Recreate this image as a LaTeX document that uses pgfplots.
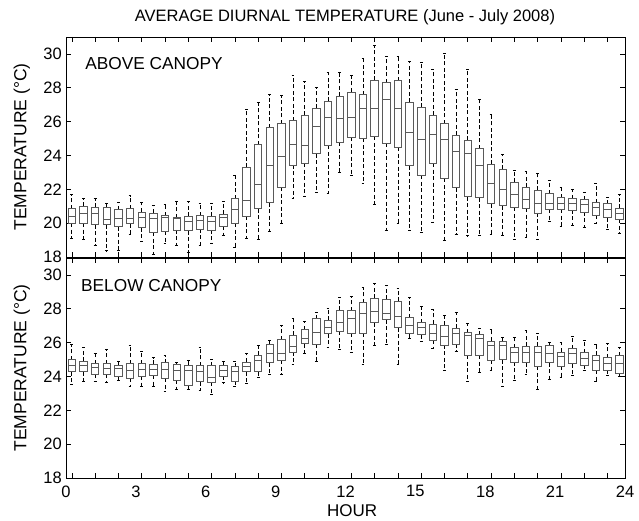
\documentclass[border=0pt]{standalone}
\usepackage{fontspec}
\setmainfont{Liberation Sans}
\usepackage{pgfplots}
\usepackage{pgfplotstable}
\usepgfplotslibrary{statistics}
\pgfplotsset{compat=1.18}

% top panel: above canopy (lower whisker, lower quartile, median, upper quartile, upper whisker)
\pgfplotstableread{
lw lq med uq uw
19.13 20.00 20.42 20.85 21.69
19.07 20.00 20.60 20.99 21.49
18.67 19.92 20.60 20.95 21.45
18.37 19.92 20.20 20.91 21.15
18.41 19.80 20.26 20.80 21.25
19.32 19.96 20.26 20.85 21.63
18.93 19.72 20.36 20.66 21.25
18.13 19.46 20.26 20.60 21.05
18.83 19.52 20.36 20.44 21.11
18.67 19.60 20.26 20.32 21.31
18.27 19.56 20.12 20.40 21.31
18.67 19.66 20.16 20.44 21.19
18.83 19.60 20.12 20.42 21.15
19.26 19.82 20.36 20.52 21.31
18.57 20.00 20.82 21.45 22.80
19.13 20.40 21.33 23.30 26.72
19.05 20.85 22.31 24.63 27.16
19.52 21.21 23.42 25.63 27.59
20.00 22.13 23.94 25.88 27.55
21.45 23.44 24.63 26.06 28.71
21.59 23.54 24.59 26.38 28.37
21.81 24.10 25.73 26.80 28.01
21.79 24.59 26.22 27.20 28.91
23.00 24.79 26.18 27.51 28.91
22.82 25.09 26.22 27.75 28.71
22.35 25.01 26.76 27.59 29.76
21.13 25.13 26.76 28.45 30.50
19.56 24.73 27.30 28.31 29.86
19.96 24.49 26.76 28.41 29.86
19.56 23.40 25.39 27.14 29.54
19.48 22.82 24.93 26.84 29.48
20.04 23.54 25.27 26.38 29.11
18.97 22.64 24.97 25.88 30.02
19.32 22.09 24.25 25.19 27.91
19.26 21.57 24.14 24.91 29.11
19.28 21.51 23.40 24.39 27.30
19.32 21.15 22.35 23.48 26.44
19.26 21.03 22.01 23.18 24.08
19.03 20.93 21.67 22.41 23.12
19.15 20.89 21.43 22.13 23.04
19.03 20.60 21.15 21.93 22.92
20.10 20.83 21.17 21.75 22.50
19.82 20.83 21.17 21.51 22.09
19.86 20.78 21.15 21.45 21.97
19.76 20.66 21.11 21.39 21.83
20.00 20.46 20.95 21.21 22.33
19.62 20.32 20.82 21.15 21.51
19.40 20.22 20.60 20.89 21.69
}\topdata

% bottom panel: below canopy
\pgfplotstableread{
lw lq med uq uw
23.53 24.27 24.67 25.00 25.90
23.69 24.27 24.63 24.90 25.73
23.73 24.12 24.51 24.76 25.35
23.63 24.12 24.47 24.76 25.61
23.78 24.02 24.47 24.67 24.92
23.39 23.88 24.37 24.76 25.84
23.43 24.02 24.43 24.76 25.49
23.39 24.08 24.43 24.71 25.10
23.10 23.88 24.43 24.82 25.22
23.25 23.78 24.33 24.71 24.86
23.25 23.45 24.33 24.67 24.96
23.16 23.69 24.27 24.63 25.73
22.96 23.65 23.92 24.63 25.00
23.63 24.02 24.33 24.63 24.92
23.39 23.73 24.31 24.57 24.92
23.59 24.27 24.57 24.86 25.39
23.92 24.27 24.96 25.25 25.84
24.12 24.82 25.35 25.90 26.14
24.14 24.96 25.35 26.18 27.02
24.73 25.45 25.75 26.43 27.41
25.35 25.94 26.27 26.76 27.25
24.90 25.90 26.59 27.41 27.80
25.73 26.53 26.92 27.31 28.00
25.59 26.67 27.22 27.92 28.65
25.45 26.55 27.41 27.88 28.75
24.73 26.55 27.71 28.35 29.27
25.84 27.18 27.84 28.63 29.51
25.90 27.35 27.75 28.55 29.41
24.73 26.88 27.55 28.43 29.22
26.27 26.53 27.02 27.47 28.65
26.08 26.47 26.92 27.18 28.14
25.69 26.14 26.53 27.10 27.94
24.37 25.86 26.39 27.02 27.59
25.49 25.92 26.53 26.86 27.80
23.73 25.25 26.43 26.59 27.12
24.22 25.25 26.27 26.47 26.82
24.37 24.96 25.84 26.10 26.76
23.39 25.00 25.84 26.10 26.31
23.78 24.86 25.41 25.69 26.31
24.12 24.82 25.41 25.78 26.73
23.22 24.59 25.41 25.78 26.53
23.82 24.82 25.39 25.84 26.00
23.94 24.61 25.16 25.45 26.00
24.06 24.75 25.35 25.65 26.39
24.39 24.67 25.06 25.41 26.16
23.73 24.37 24.96 25.25 25.90
24.08 24.37 24.76 25.12 25.94
24.00 24.20 24.76 25.22 25.71
}\botdata

\pgfplotsset{
  panel/.style={
    scale only axis, width=559pt, height=220pt,
    xmin=0, xmax=24, ymin=18, ymax=31,
    ytick={18,20,...,30},
    xtick={0.25,1.25,...,23.25},
    tick align=inside, xtick pos=both, ytick pos=both,
    ticklabel pos=left,
    major tick length=5pt,
    tick style={black, line width=0.6pt},
    axis line style={black, line width=0.8pt},
    /pgf/number format/assume math mode=true,
    yticklabel style={font=\fontsize{16.5}{16.5}\selectfont, inner sep=1pt, xshift=-3pt},
    xticklabel style={font=\fontsize{16.5}{16.5}\selectfont, yshift=-4pt},
    every axis y label/.style={at={(axis description cs:-0.079,0.5)}, rotate=90, anchor=center, font=\fontsize{17.5}{17.5}\selectfont},
    ylabel={TEMPERATURE (°C)},
    boxplot/draw direction=y,
    boxplot/every box/.style={draw=black!65, line width=0.8pt},
    boxplot/every median/.style={draw=black!65, line width=0.8pt},
    boxplot/every whisker/.style={draw=black, line width=0.7pt, dash pattern=on 4pt off 2.5pt},
  },
}

% draw the 48 boxes of one table
\newcommand{\drawboxes}[1]{%
  \pgfplotsinvokeforeach{0,...,47}{%
    \pgfplotstablegetelem{##1}{lw}\of#1\let\vlw\pgfplotsretval
    \pgfplotstablegetelem{##1}{lq}\of#1\let\vlq\pgfplotsretval
    \pgfplotstablegetelem{##1}{med}\of#1\let\vmed\pgfplotsretval
    \pgfplotstablegetelem{##1}{uq}\of#1\let\vuq\pgfplotsretval
    \pgfplotstablegetelem{##1}{uw}\of#1\let\vuw\pgfplotsretval
    \pgfmathsetmacro\vpos{0.25+0.5*##1}%
    \edef\doplot{\noexpand\addplot[draw=black!65, boxplot prepared={draw position=\vpos, lower whisker=\vlw, lower quartile=\vlq, median=\vmed, upper quartile=\vuq, upper whisker=\vuw, box extend=0.32, whisker extend=0.12}] coordinates {};}%
    \doplot
  }%
}

\begin{document}
\begin{tikzpicture}
\useasboundingbox (0,0) rectangle (639pt,521pt);

\begin{axis}[panel, at={(66pt,264pt)}, anchor=south west, xticklabels={}]
\drawboxes{\topdata}
\node[anchor=west, inner sep=0pt, font=\fontsize{17.3}{17.3}\selectfont] at (axis cs:0.82,29.46) {ABOVE CANOPY};
\end{axis}

\begin{axis}[panel, at={(66pt,43pt)}, anchor=south west, xticklabels={},
  extra x ticks={0,3,...,24},
  extra x tick labels={0,3,6,9,12,15,18,21,24},
  extra x tick style={major tick length=0pt},
  xlabel={HOUR},
  every axis x label/.style={at={(axis description cs:0.512,-0.15)}, anchor=center, font=\fontsize{17}{17}\selectfont}]
\drawboxes{\botdata}
\node[anchor=west, inner sep=0pt, font=\fontsize{17.3}{17.3}\selectfont] at (axis cs:0.64,29.37) {BELOW CANOPY};
\end{axis}

\node[font=\fontsize{16.5}{16.5}\selectfont] at (345pt,504pt) {AVERAGE DIURNAL TEMPERATURE (June - July 2008)};
\end{tikzpicture}
\end{document}
